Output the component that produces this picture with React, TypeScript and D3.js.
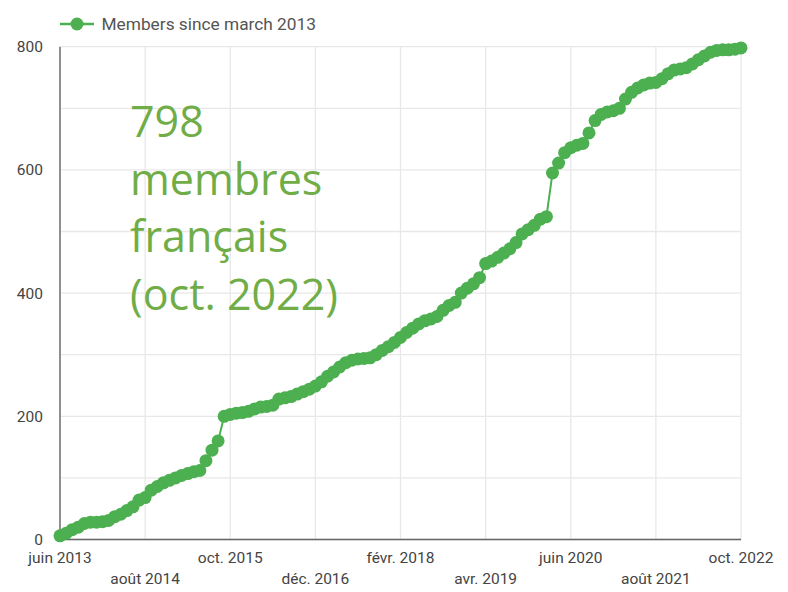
import React from "react";
import * as d3 from "d3";

// Monthly member counts, June 2013 (index 0) to October 2022 (index 112)
const members: number[] = [
  6, 10, 16, 20, 26, 28, 28, 29, 31, 37,
  41, 47, 53, 64, 68, 80, 86, 92, 96, 100,
  104, 107, 110, 112, 128, 145, 160, 200, 203, 205,
  206, 208, 212, 215, 216, 218, 228, 230, 232, 236,
  240, 244, 249, 256, 265, 272, 280, 287, 291, 293,
  294, 295, 300, 307, 313, 320, 328, 336, 343, 350,
  355, 358, 362, 372, 380, 385, 400, 408, 415, 425,
  448, 452, 458, 465, 472, 482, 496, 503, 510, 520,
  524, 595, 611, 628, 636, 640, 643, 660, 680, 690,
  694, 696, 700, 715, 726, 733, 738, 741, 742, 748,
  756, 762, 764, 766, 772, 779, 785, 791, 794, 795,
  795, 796, 798,
];

const xTickMonths: number[] = [0, 14, 28, 42, 56, 70, 84, 98, 112];
const xTickLabels: string[] = [
  "juin 2013", "août 2014", "oct. 2015", "déc. 2016", "févr. 2018",
  "avr. 2019", "juin 2020", "août 2021", "oct. 2022",
];
const yTicks: number[] = [0, 200, 400, 600, 800];
const yGrid: number[] = [0, 100, 200, 300, 400, 500, 600, 700, 800];
const legendLabel = "Members since march 2013";
const annotationLines: string[] = ["798", "membres", "français", "(oct. 2022)"];

const W = 788;
const H = 592;
const plot = { left: 60, right: 741, top: 46.7, bottom: 539.5 };
const green = "#4caf50";

export default function App() {
  const x = d3.scaleLinear().domain([0, 112]).range([plot.left, plot.right]);
  const y = d3.scaleLinear().domain([0, 800]).range([plot.bottom, plot.top]);
  const line = d3
    .line<number>()
    .x((_, i) => x(i))
    .y((d) => y(d));

  return (
    <svg
      width={W}
      height={H}
      style={{ position: "absolute", left: 0, top: 0, background: "#fff" }}
      fontFamily="Roboto, sans-serif"
    >
      {/* grid */}
      {yGrid.map((v) => (
        <line
          key={"hg" + v}
          x1={plot.left}
          x2={plot.right}
          y1={y(v)}
          y2={y(v)}
          stroke="#e8e8e8"
          strokeWidth={1.3}
        />
      ))}
      {xTickMonths.map((m) => (
        <line
          key={"vg" + m}
          x1={x(m)}
          x2={x(m)}
          y1={plot.top}
          y2={plot.bottom}
          stroke="#e8e8e8"
          strokeWidth={1.3}
        />
      ))}
      {/* axes baselines */}
      <line x1={plot.left} x2={plot.left} y1={plot.top} y2={plot.bottom} stroke="#666" strokeWidth={1.4} />
      <line x1={plot.left} x2={plot.right} y1={plot.bottom} y2={plot.bottom} stroke="#666" strokeWidth={1.4} />

      {/* y tick labels */}
      {yTicks.map((v) => (
        <text
          key={"yt" + v}
          x={43}
          y={y(v)}
          dy="0.36em"
          textAnchor="end"
          fontSize={15.5}
          fill="#444"
        >
          {v}
        </text>
      ))}
      {/* x tick labels */}
      {xTickMonths.map((m, i) => (
        <text
          key={"xt" + m}
          x={x(m)}
          y={i % 2 === 0 ? 563 : 584}
          textAnchor="middle"
          fontSize={15.5}
          fill="#444"
        >
          {xTickLabels[i]}
        </text>
      ))}

      {/* annotation */}
      {annotationLines.map((t, i) => (
        <text
          key={"an" + i}
          x={130}
          y={136.7 + i * 57.8}
          fontFamily="'Open Sans', sans-serif"
          fontSize={43}
          fill="#70ad47"
        >
          {t}
        </text>
      ))}

      {/* series */}
      <path d={line(members) || ""} fill="none" stroke={green} strokeWidth={2} />
      {members.map((v, i) => (
        <circle key={"p" + i} cx={x(i)} cy={y(v)} r={6.5} fill={green} />
      ))}

      {/* legend */}
      <line x1={60} x2={94} y1={24} y2={24} stroke={green} strokeWidth={2.5} />
      <circle cx={77} cy={24} r={6.5} fill={green} />
      <text x={101.5} y={29.8} fontSize={17.3} fill="#555">
        {legendLabel}
      </text>
    </svg>
  );
}
